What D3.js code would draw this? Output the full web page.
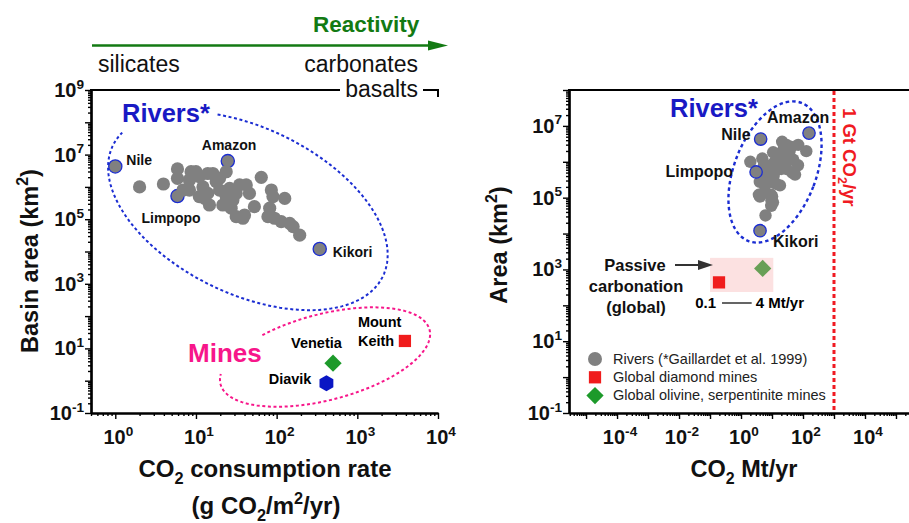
<!DOCTYPE html>
<html>
<head>
<meta charset="utf-8">
<script src="https://cdn.jsdelivr.net/npm/d3@7"></script>
<style>
  html, body { margin: 0; padding: 0; background: #fff; }
  svg { display: block; font-family: "Liberation Sans", Arial, Helvetica, sans-serif; }
</style>
</head>
<body>
<svg id="chart" width="909" height="523"></svg>
<script>
// ---------------- data ----------------
// Labelled rivers: CO2 consumption rate (g CO2/m2/yr) and basin area (km2)
const labelledRivers = ["Nile", "Amazon", "Limpopo", "Kikori"];
const labelledRate   = [1.0, 24.8, 5.9, 342];
const labelledArea   = [4.3e6, 6.3e6, 5.2e5, 1.2e4];

// Other rivers (Gaillardet et al. 1999)
const riverRate = [2.0, 3.95, 5.9, 5.9, 8.7, 10.0, 14.0, 16.2, 23.7, 17.8, 12.2, 8.3, 11.0, 14.0, 19.6,
                   26.1, 34.7, 42, 14.7, 21.5, 28.7, 27.3, 31.5, 38.2, 40, 46, 53, 64.5, 86, 90,
                   82, 78, 94, 126, 114, 145, 160, 193, 8.3, 11.0, 19.6, 12.8, 31.5, 23.7, 6.9];
const riverArea = [1.0e6, 1.23e6, 3.6e6, 1.84e6, 2.95e6, 2.95e6, 2.6e6, 2.6e6, 2.95e6, 1.45e6, 1.0e6, 8.0e5, 5.0e5, 6.3e5, 8.0e5,
                   9.0e5, 1.15e6, 1.15e6, 2.75e5, 2.75e5, 3.9e5, 2.2e5, 1.2e5, 1.07e5, 1.35e5, 6.3e5, 2.45e5, 1.98e6, 8.0e5, 5.0e5,
                   2.2e5, 1.2e5, 1.07e5, 4.4e5, 8.4e4, 7.4e4, 5.9e4, 3.2e4, 1.64e6, 2.07e6, 1.84e6, 4.4e5, 6.3e5, 5.0e5, 8.0e5];

// Individual mines
const mineNames = ["Venetia", "Diavik", "Mount Keith"];
const mineRate  = [500, 414, 3890];
const mineArea  = [3.5, 0.83, 17];

// Global mine totals: CO2 Mt/yr and area km2
const globalNames = ["Global diamond mines", "Global olivine, serpentinite mines"];
const globalFlux  = [0.195, 5.0];
const globalArea  = [436, 1070];
const passiveRange = [0.1, 4];          // Mt/yr
const gigatonLine  = 1000;              // 1 Gt = 1000 Mt

// Tick label exponents
const leftXExps  = [0, 1, 2, 3, 4];
const leftYExps  = [-1, 1, 3, 5, 7, 9];
const rightXExps = [-4, -2, 0, 2, 4];
const rightYExps = [-1, 1, 3, 5, 7];

// ---------------- setup ----------------
const svg = d3.select("#chart");
const C = {
  gray: "#808080", blue: "#1b2dd2", blueText: "#1919c4", pink: "#f7168a",
  red: "#f01c1c", green: "#1d9a2a", darkGreen: "#137a13", ink: "#111"
};

const xL = d3.scaleLog().domain([0.5, 1e4]).range([91, 438]);
const yL = d3.scaleLog().domain([0.1, 1e9]).range([413, 90]);
const xR = d3.scaleLog().domain([Math.pow(10, -5.55), Math.pow(10, 5.42)]).range([569, 909]);
const yR = d3.scaleLog().domain([0.1, 1e8]).range([413, 90]);

const flux = (rate, area) => rate * area / 1e6;   // g/m2/yr * km2 -> Mt/yr

// text with sub/superscripts: parts = [[text, "sub"|"sup"|undefined], ...]
function rich(parent, x, y, parts, size, opts = {}) {
  const t = parent.append("text")
    .attr("font-size", size)
    .attr("font-weight", opts.weight || "bold")
    .attr("fill", opts.fill || C.ink)
    .attr("text-anchor", opts.anchor || "start");
  if (opts.rotate) t.attr("transform", `translate(${x},${y}) rotate(${opts.rotate})`);
  else t.attr("x", x).attr("y", y);
  let shift = 0;
  parts.forEach(([s, kind]) => {
    const sp = t.append("tspan").text(s);
    let target = 0;
    if (kind === "sub") { target = size * 0.28; sp.attr("font-size", size * 0.68); }
    if (kind === "sup") { target = -size * 0.42; sp.attr("font-size", size * 0.68); }
    if (target - shift !== 0) sp.attr("dy", target - shift);
    shift = target;
  });
  return t;
}

function logTicks(scale) {
  const [d0, d1] = scale.domain();
  const majors = [], minors = [];
  for (let e = Math.floor(Math.log10(d0)); e <= Math.ceil(Math.log10(d1)); e++) {
    for (let k = 1; k <= 9; k++) {
      const v = k * Math.pow(10, e);
      if (v < d0 * 0.9999 || v > d1 * 1.0001) continue;
      (k === 1 ? majors : minors).push(v);
    }
  }
  return { majors, minors };
}

function drawAxis(scale, orient, at, exps) {
  const g = svg.append("g");
  const { majors, minors } = logTicks(scale);
  const make = orient === "left" ? d3.axisLeft : d3.axisBottom;
  const tr = orient === "left" ? `translate(${at},0)` : `translate(0,${at})`;
  g.append("g").attr("transform", tr)
    .call(make(scale).tickValues(minors).tickSize(3).tickSizeOuter(0).tickFormat(""));
  g.append("g").attr("transform", tr)
    .call(make(scale).tickValues(majors).tickSize(6).tickSizeOuter(0).tickFormat(""));
  g.selectAll("path.domain").attr("stroke", "#000").attr("stroke-width", 2.2);
  g.selectAll(".tick line").attr("stroke", "#000").attr("stroke-width", 1.4);
  exps.forEach(e => {
    const v = Math.pow(10, e);
    if (orient === "left") {
      rich(g, at - 7, scale(v) + 7, [["10"], [String(e), "sup"]], 20, { anchor: "end" });
    } else {
      rich(g, scale(v) + 3, 444, [["10"], [String(e), "sup"]], 20, { anchor: "middle" });
    }
  });
  return g;
}

function ellipsePath(cx, cy, a, b, rotDeg, t0, t1) {
  const th = rotDeg * Math.PI / 180, pts = [];
  const n = 160;
  for (let i = 0; i <= n; i++) {
    const t = (t0 + (t1 - t0) * i / n) * Math.PI / 180;
    const u = a * Math.cos(t), v = b * Math.sin(t);
    pts.push([cx + u * Math.cos(th) - v * Math.sin(th), cy + u * Math.sin(th) + v * Math.cos(th)]);
  }
  return d3.line()(pts);
}

const diamond = s => d3.symbol().type(d3.symbolDiamond2).size(s)();
const square  = s => d3.symbol().type(d3.symbolSquare).size(s)();
function hexagon(r) {
  const p = d3.path();
  for (let i = 0; i < 6; i++) {
    const a = (Math.PI / 3) * i - Math.PI / 2;
    const x = r * Math.cos(a), y = r * Math.sin(a);
    if (i === 0) p.moveTo(x, y); else p.lineTo(x, y);
  }
  p.closePath();
  return p.toString();
}

// ---------------- reactivity bar ----------------
const bar = svg.append("g");
bar.append("line").attr("x1", xL.range()[0] + 1).attr("x2", 432).attr("y1", 45.5).attr("y2", 45.5)
  .attr("stroke", C.darkGreen).attr("stroke-width", 2.6);
bar.append("path").attr("d", "M428,40.5 L448,45.5 L428,50.5 Z").attr("fill", C.darkGreen);
bar.append("text").attr("x", 313).attr("y", 32).attr("font-size", 22.5).attr("font-weight", "bold")
  .attr("fill", C.darkGreen).text("Reactivity");
bar.append("text").attr("x", 98).attr("y", 72).attr("font-size", 23).attr("fill", C.ink).text("silicates");
bar.append("text").attr("x", 418).attr("y", 72).attr("font-size", 23).attr("text-anchor", "end")
  .attr("fill", C.ink).text("carbonates");
bar.append("text").attr("x", 418).attr("y", 97).attr("font-size", 23).attr("text-anchor", "end")
  .attr("fill", C.ink).text("basalts");
bar.append("path").attr("d", "M90,90 H340 M423,90 H438 V97")
  .attr("fill", "none").attr("stroke", "#000").attr("stroke-width", 2);

// ---------------- left panel ----------------
drawAxis(xL, "bottom", 413, leftXExps);
drawAxis(yL, "left", 91, leftYExps);

rich(svg, 38, 261, [["Basin area (km"], ["2", "sup"], [")"]], 23.5, { anchor: "middle", rotate: -90 });
rich(svg, 265, 477, [["CO"], ["2", "sub"], [" consumption rate"]], 24, { anchor: "middle" });
rich(svg, 266, 514, [["(g CO"], ["2", "sub"], ["/m"], ["2", "sup"], ["/yr)"]], 24, { anchor: "middle" });

const leftG = svg.append("g");
// rivers envelope
leftG.append("path")
  .attr("d", ellipsePath(xL(44), yL(1.8e5), 150, 83, 25.8, -117.5, 191))
  .attr("fill", "none").attr("stroke", C.blue).attr("stroke-width", 2).attr("stroke-dasharray", "3,2.6");
leftG.append("text").attr("x", 122).attr("y", 122).attr("font-size", 25.5).attr("font-weight", "bold")
  .attr("fill", C.blueText).text("Rivers*");
// mines envelope
leftG.append("path")
  .attr("d", ellipsePath(xL(398), yL(5.4), 108, 43, -14.6, -120.7, 193.3))
  .attr("fill", "none").attr("stroke", C.pink).attr("stroke-width", 2).attr("stroke-dasharray", "3,2.6");
leftG.append("text").attr("x", 188).attr("y", 362).attr("font-size", 26).attr("font-weight", "bold")
  .attr("fill", C.pink).text("Mines");

// labelled rivers under the cluster
leftG.selectAll("circle.lab").data(labelledRivers).join("circle")
  .attr("class", "lab")
  .attr("cx", (d, i) => xL(labelledRate[i])).attr("cy", (d, i) => yL(labelledArea[i]))
  .attr("r", 6.6).attr("fill", C.gray).attr("stroke", C.blue).attr("stroke-width", 1.3);
leftG.selectAll("circle.riv").data(riverRate).join("circle")
  .attr("class", "riv")
  .attr("cx", (d, i) => xL(riverRate[i])).attr("cy", (d, i) => yL(riverArea[i]))
  .attr("r", 6.6).attr("fill", C.gray);

const leftLabelOffsets = [[11, -1, "start"], [-26, -11, "start"], [-36, 27, "start"], [13, 8, "start"]];
labelledRivers.forEach((n, i) => {
  const [dx, dy, anc] = leftLabelOffsets[i];
  leftG.append("text").attr("x", xL(labelledRate[i]) + dx).attr("y", yL(labelledArea[i]) + dy)
    .attr("font-size", 14).attr("font-weight", "bold").attr("text-anchor", anc).attr("fill", C.ink).text(n);
});

// mines
const mineShapes = [
  () => diamond(190),
  () => hexagon(8),
  () => square(150)
];
const mineColors = [C.green, "#0a16c4", C.red];
mineNames.forEach((n, i) => {
  leftG.append("path").attr("d", mineShapes[i]())
    .attr("transform", `translate(${xL(mineRate[i])},${yL(mineArea[i])})`)
    .attr("fill", mineColors[i]);
});
const vx = xL(mineRate[0]), vy = yL(mineArea[0]);
leftG.append("text").attr("x", vx - 42).attr("y", vy - 15).attr("font-size", 14.5).attr("font-weight", "bold").text("Venetia");
const dx0 = xL(mineRate[1]), dy0 = yL(mineArea[1]);
leftG.append("text").attr("x", dx0 - 15).attr("y", dy0 + 1).attr("font-size", 14.5).attr("font-weight", "bold")
  .attr("text-anchor", "end").text("Diavik");
const mx = xL(mineRate[2]), my = yL(mineArea[2]);
leftG.append("text").attr("x", mx - 47).attr("y", my - 14).attr("font-size", 14.5).attr("font-weight", "bold").text("Mount");
leftG.append("text").attr("x", mx - 47).attr("y", my + 5).attr("font-size", 14.5).attr("font-weight", "bold").text("Keith");

// ---------------- right panel ----------------
drawAxis(xR, "bottom", 413, rightXExps);
drawAxis(yR, "left", 569, rightYExps);
svg.append("line").attr("x1", 568).attr("x2", 909).attr("y1", 90).attr("y2", 90)
  .attr("stroke", "#000").attr("stroke-width", 2);

rich(svg, 507, 245, [["Area (km"], ["2", "sup"], [")"]], 23.5, { anchor: "middle", rotate: -90 });
rich(svg, 744, 477, [["CO"], ["2", "sub"], [" Mt/yr"]], 23.5, { anchor: "middle" });

const rightG = svg.append("g");
// 1 Gt line
rightG.append("line").attr("x1", xR(gigatonLine)).attr("x2", xR(gigatonLine)).attr("y1", 91).attr("y2", 412)
  .attr("stroke", "#f01a22").attr("stroke-width", 3).attr("stroke-dasharray", "4,3");
rich(rightG, xR(gigatonLine) + 9, 108, [["1 Gt CO"], ["2", "sub"], ["/yr"]], 18.5,
  { rotate: 90, fill: "#f01a22" });

// rivers envelope
rightG.append("ellipse").attr("rx", 41).attr("ry", 74)
  .attr("transform", `translate(${xR(12.5)},${yR(5.2e5)}) rotate(21)`)
  .attr("fill", "none").attr("stroke", C.blue).attr("stroke-width", 2.4).attr("stroke-dasharray", "3.5,3");
rightG.append("text").attr("x", 670).attr("y", 117).attr("font-size", 25.5).attr("font-weight", "bold")
  .attr("fill", C.blueText).text("Rivers*");

rightG.selectAll("circle.riv").data(riverRate).join("circle")
  .attr("class", "riv")
  .attr("cx", (d, i) => xR(flux(riverRate[i], riverArea[i]))).attr("cy", (d, i) => yR(riverArea[i]))
  .attr("r", 6.2).attr("fill", C.gray);
rightG.selectAll("circle.lab").data(labelledRivers).join("circle")
  .attr("class", "lab")
  .attr("cx", (d, i) => xR(flux(labelledRate[i], labelledArea[i]))).attr("cy", (d, i) => yR(labelledArea[i]))
  .attr("r", 6.2).attr("fill", C.gray).attr("stroke", C.blue).attr("stroke-width", 1.3);

const rightLabelOffsets = [[-10, 1, "end"], [-42, -10, "start"], [-23, 5, "end"], [13, 16, "start"]];
labelledRivers.forEach((n, i) => {
  const [dx, dy, anc] = rightLabelOffsets[i];
  rightG.append("text").attr("x", xR(flux(labelledRate[i], labelledArea[i])) + dx).attr("y", yR(labelledArea[i]) + dy)
    .attr("font-size", 16).attr("font-weight", "bold").attr("text-anchor", anc).attr("fill", C.ink).text(n);
});

// passive carbonation window
rightG.append("path").attr("d", diamond(190))
  .attr("transform", `translate(${xR(globalFlux[1])},${yR(globalArea[1])})`).attr("fill", C.green);
rightG.append("rect")
  .attr("x", xR(passiveRange[0])).attr("y", yR(2100))
  .attr("width", xR(11) - xR(passiveRange[0])).attr("height", yR(235) - yR(2100))
  .attr("fill", "rgb(245,170,170)").attr("opacity", 0.35);
rightG.append("path").attr("d", square(150))
  .attr("transform", `translate(${xR(globalFlux[0])},${yR(globalArea[0])})`).attr("fill", C.red);

const pc = rightG.append("g").attr("font-size", 16.5).attr("font-weight", "bold").attr("fill", C.ink)
  .attr("text-anchor", "middle");
pc.append("text").attr("x", 635).attr("y", 271).text("Passive");
pc.append("text").attr("x", 636).attr("y", 292).text("carbonation");
pc.append("text").attr("x", 636).attr("y", 313).text("(global)");
rightG.append("line").attr("x1", 675).attr("x2", 700).attr("y1", 265).attr("y2", 265)
  .attr("stroke", "#333").attr("stroke-width", 2);
rightG.append("path").attr("d", "M698,260 L713,265 L698,270 Z").attr("fill", "#333");

rightG.append("text").attr("x", xR(passiveRange[0]) + 6).attr("y", 308).attr("font-size", 15)
  .attr("font-weight", "bold").attr("text-anchor", "end").text(String(passiveRange[0]));
rightG.append("line").attr("x1", xR(passiveRange[0]) + 12).attr("x2", xR(passiveRange[1]) - 8)
  .attr("y1", 303).attr("y2", 303).attr("stroke", "#111").attr("stroke-width", 1.3);
rightG.append("text").attr("x", xR(passiveRange[1]) - 4).attr("y", 308).attr("font-size", 15)
  .attr("font-weight", "bold").text(passiveRange[1] + " Mt/yr");

// legend
const legendItems = ["Rivers (*Gaillardet et al. 1999)", globalNames[0], globalNames[1]];
const leg = rightG.append("g").attr("transform", "translate(595,359)");
legendItems.forEach((t, i) => {
  const gy = i * 18.3;
  if (i === 0) leg.append("circle").attr("cx", 0).attr("cy", gy).attr("r", 7).attr("fill", C.gray);
  if (i === 1) leg.append("path").attr("d", square(150)).attr("transform", `translate(0,${gy})`).attr("fill", C.red);
  if (i === 2) leg.append("path").attr("d", diamond(190)).attr("transform", `translate(0,${gy})`).attr("fill", C.green);
  leg.append("text").attr("x", 18).attr("y", gy + 4.5).attr("font-size", 14.5).attr("fill", "#222").text(t);
});
</script>
</body>
</html>
